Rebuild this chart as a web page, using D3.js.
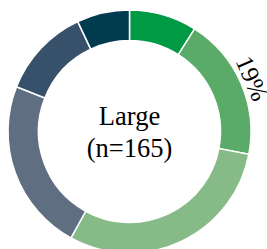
<!DOCTYPE html>
<html>
<head>
    <meta charset="UTF-8">
    <title></title>
    <style>
        body { margin: 0; background: #fff; }
        svg { font-family: "Liberation Serif", serif; }
    </style>
</head>
<body>
<svg id="chart" width="267" height="249"></svg>
<script src="https://d3js.org/d3.v7.min.js"></script>
<script>
    let categories = ['A', 'B', 'C', 'D', 'E', 'F'];
    let values = [9, 19, 30, 23, 12, 7];
    let colors = ['#009a44', '#5aab67', '#86bb87', '#5f6f81', '#37516a', '#003b50'];
    let shownLabels = ['', '19%', '', '', '', ''];
    let title = 'Large';
    let subtitle = '(n=165)';

    let cx = 129.5, cy = 131.5;
    let outer = 121.5, inner = 91;

    let svg = d3.select('#chart');
    let g = svg.append('g')
        .attr('transform', 'translate(' + cx + ',' + cy + ')');

    let pie = d3.pie().sort(null).value(d => d);
    let arcs = pie(values);

    let arc = d3.arc().innerRadius(inner).outerRadius(outer);

    g.selectAll('path')
        .data(arcs)
        .enter().append('path')
        .attr('d', arc)
        .attr('fill', (d, i) => colors[i])
        .attr('stroke', '#fff')
        .attr('stroke-width', 1.5);

    // percentage labels outside the ring, rotated along the arc
    let labelR = outer + 12;
    g.selectAll('text.pct')
        .data(arcs)
        .enter().append('text')
        .attr('class', 'pct')
        .attr('transform', d => {
            let a = (d.startAngle + d.endAngle) / 2;
            let x = Math.sin(a) * labelR, y = -Math.cos(a) * labelR;
            return 'translate(' + x + ',' + y + ') rotate(' + (a * 180 / Math.PI) + ')';
        })
        .attr('text-anchor', 'middle')
        .attr('dy', '0.33em')
        .attr('font-size', 25)
        .attr('fill', '#000')
        .text((d, i) => shownLabels[i]);

    g.append('text')
        .attr('text-anchor', 'middle')
        .attr('y', -6.5)
        .attr('font-size', 26.5)
        .attr('fill', '#000')
        .text(title);

    g.append('text')
        .attr('text-anchor', 'middle')
        .attr('y', 25)
        .attr('font-size', 26.5)
        .attr('fill', '#000')
        .text(subtitle);
</script>
</body>
</html>
